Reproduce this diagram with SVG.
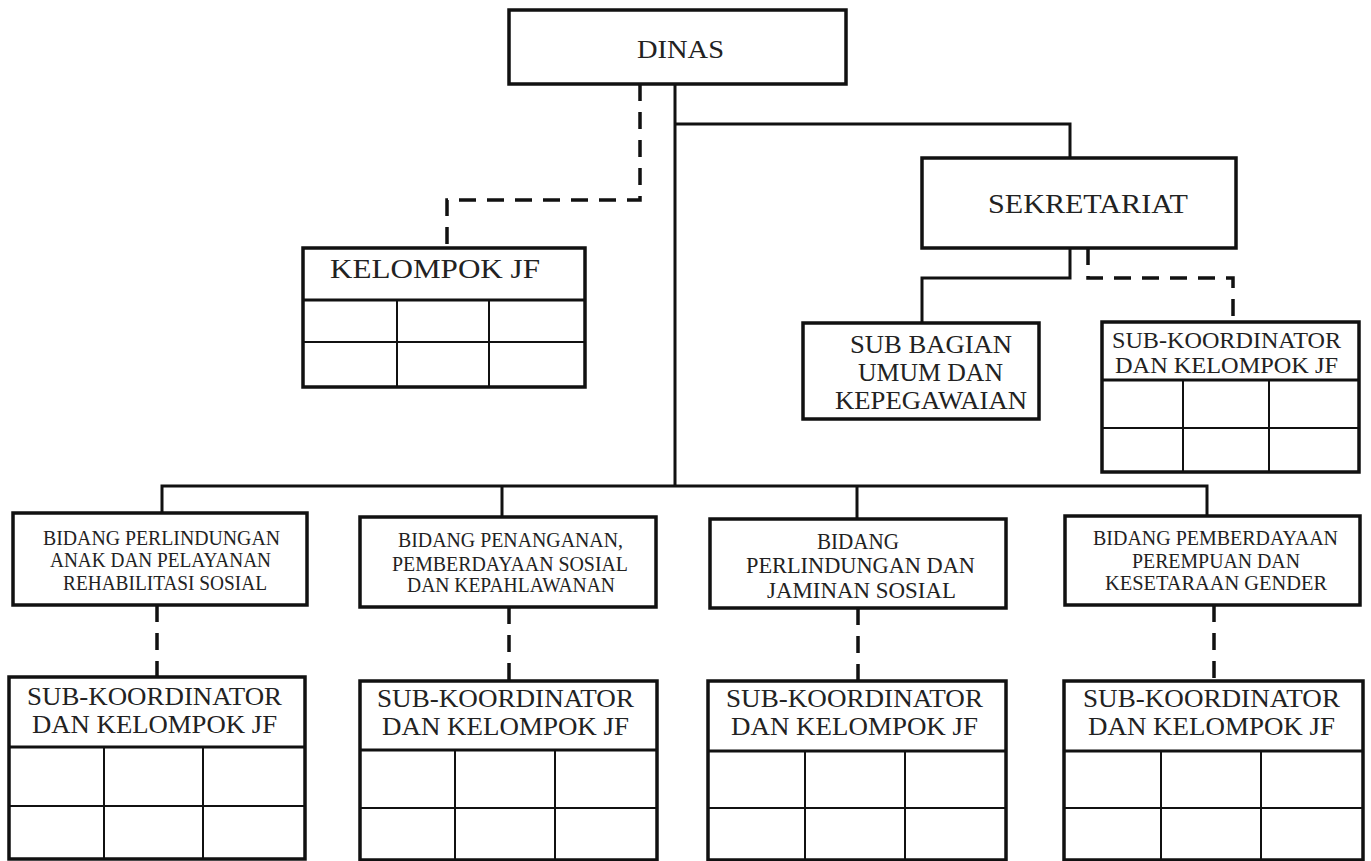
<svg xmlns="http://www.w3.org/2000/svg" width="1371" height="861" viewBox="0 0 1371 861">
<style>
.bg{fill:#ffffff}
.box{fill:#ffffff;stroke:#111;stroke-width:3.5}
.hdr{stroke:#111;stroke-width:3;fill:none}
.grid{stroke:#111;stroke-width:2;fill:none}
.solid{stroke:#111;stroke-width:3;fill:none}
.dash{stroke:#111;stroke-width:3.5;fill:none;stroke-dasharray:17 11}
text{font-family:"Liberation Serif","Times New Roman",serif;fill:#222}
.t24{font-size:26px}
.t25{font-size:27px}
.t26{font-size:28px}
.t21{font-size:22.5px}
.t19{font-size:20px}
.t22{font-size:23px}
</style>
<rect class="bg" x="0" y="0" width="1371" height="861"/>

<g id="connectors">
  <path class="solid" d="M675 84 V486"/>
  <path class="solid" d="M675 124 H1070 V158"/>
  <path class="solid" d="M162 513 V486 H1207 V516"/>
  <path class="solid" d="M502 486 V517"/>
  <path class="solid" d="M857 486 V519"/>
  <path class="dash" d="M640 84 V200 H447 V248"/>
  <path class="solid" d="M1070 248 V278 H922 V323"/>
  <path class="dash" d="M1088 248 V278 H1233 V322"/>
  <path class="dash" d="M157 605 V677"/>
  <path class="dash" d="M509 607 V681"/>
  <path class="dash" d="M858 608 V681"/>
  <path class="dash" d="M1214 605 V681"/>
</g>

<g id="dinas">
  <rect class="box" x="509" y="10" width="337" height="74"/>
  <text class="t24" x="637" y="58" textLength="87" lengthAdjust="spacingAndGlyphs">DINAS</text>
</g>

<g id="kelompok-jf">
  <rect class="box" x="303" y="248" width="282" height="139"/>
  <path class="hdr" d="M303 300 H585"/>
  <path class="grid" d="M303 342 H585 M397 300 V387 M489 300 V387"/>
  <text class="t25" x="330" y="278" textLength="210" lengthAdjust="spacingAndGlyphs">KELOMPOK JF</text>
</g>

<g id="sekretariat">
  <rect class="box" x="922" y="158" width="314" height="90"/>
  <text class="t26" x="988" y="213" textLength="200" lengthAdjust="spacingAndGlyphs">SEKRETARIAT</text>
</g>

<g id="subbag-umum">
  <rect class="box" x="803" y="323" width="236" height="96"/>
  <text class="t24" x="850" y="353" textLength="162" lengthAdjust="spacingAndGlyphs">SUB BAGIAN</text>
  <text class="t24" x="858" y="381" textLength="145" lengthAdjust="spacingAndGlyphs">UMUM DAN</text>
  <text class="t24" x="835" y="409" textLength="192" lengthAdjust="spacingAndGlyphs">KEPEGAWAIAN</text>
</g>

<g id="subkoor-sek">
  <rect class="box" x="1102" y="322" width="257" height="150"/>
  <path class="hdr" d="M1102 380 H1359"/>
  <path class="grid" d="M1102 428 H1359 M1183 380 V472 M1269 380 V472"/>
  <text class="t21" x="1112" y="348" textLength="229" lengthAdjust="spacingAndGlyphs">SUB-KOORDINATOR</text>
  <text class="t21" x="1115" y="373" textLength="223" lengthAdjust="spacingAndGlyphs">DAN KELOMPOK JF</text>
</g>

<g id="bidang-1">
  <rect class="box" x="13" y="513" width="294" height="92"/>
  <text class="t19" x="43" y="545" textLength="237" lengthAdjust="spacingAndGlyphs">BIDANG PERLINDUNGAN</text>
  <text class="t19" x="50" y="567" textLength="221" lengthAdjust="spacingAndGlyphs">ANAK DAN PELAYANAN</text>
  <text class="t19" x="63" y="590" textLength="204" lengthAdjust="spacingAndGlyphs">REHABILITASI SOSIAL</text>
</g>

<g id="bidang-2">
  <rect class="box" x="360" y="517" width="296" height="90"/>
  <text class="t19" x="398" y="547" textLength="225" lengthAdjust="spacingAndGlyphs">BIDANG PENANGANAN,</text>
  <text class="t19" x="392" y="571" textLength="236" lengthAdjust="spacingAndGlyphs">PEMBERDAYAAN SOSIAL</text>
  <text class="t19" x="407" y="592" textLength="208" lengthAdjust="spacingAndGlyphs">DAN KEPAHLAWANAN</text>
</g>

<g id="bidang-3">
  <rect class="box" x="710" y="519" width="296" height="89"/>
  <text class="t22" x="817" y="549" textLength="82" lengthAdjust="spacingAndGlyphs">BIDANG</text>
  <text class="t22" x="746" y="573" textLength="229" lengthAdjust="spacingAndGlyphs">PERLINDUNGAN DAN</text>
  <text class="t22" x="767" y="598" textLength="189" lengthAdjust="spacingAndGlyphs">JAMINAN SOSIAL</text>
</g>

<g id="bidang-4">
  <rect class="box" x="1065" y="516" width="295" height="89"/>
  <text class="t19" x="1093" y="545" textLength="245" lengthAdjust="spacingAndGlyphs">BIDANG PEMBERDAYAAN</text>
  <text class="t19" x="1132" y="568" textLength="168" lengthAdjust="spacingAndGlyphs">PEREMPUAN DAN</text>
  <text class="t19" x="1105" y="590" textLength="222" lengthAdjust="spacingAndGlyphs">KESETARAAN GENDER</text>
</g>

<g id="subkoor-1">
  <rect class="box" x="9" y="677" width="296" height="182"/>
  <path class="hdr" d="M9 747 H305"/>
  <path class="grid" d="M9 806 H305 M104 747 V859 M203 747 V859"/>
  <text class="t24" x="27" y="705" textLength="255" lengthAdjust="spacingAndGlyphs">SUB-KOORDINATOR</text>
  <text class="t24" x="32" y="733" textLength="245" lengthAdjust="spacingAndGlyphs">DAN KELOMPOK JF</text>
</g>

<g id="subkoor-2">
  <rect class="box" x="360" y="681" width="297" height="179"/>
  <path class="hdr" d="M360 750 H657"/>
  <path class="grid" d="M360 808 H657 M455 750 V860 M555 750 V860"/>
  <text class="t24" x="377" y="707" textLength="257" lengthAdjust="spacingAndGlyphs">SUB-KOORDINATOR</text>
  <text class="t24" x="382" y="735" textLength="247" lengthAdjust="spacingAndGlyphs">DAN KELOMPOK JF</text>
</g>

<g id="subkoor-3">
  <rect class="box" x="708" y="681" width="298" height="179"/>
  <path class="hdr" d="M708 751 H1006"/>
  <path class="grid" d="M708 808 H1006 M805 751 V860 M905 751 V860"/>
  <text class="t24" x="726" y="707" textLength="257" lengthAdjust="spacingAndGlyphs">SUB-KOORDINATOR</text>
  <text class="t24" x="731" y="735" textLength="247" lengthAdjust="spacingAndGlyphs">DAN KELOMPOK JF</text>
</g>

<g id="subkoor-4">
  <rect class="box" x="1064" y="681" width="299" height="179"/>
  <path class="hdr" d="M1064 751 H1363"/>
  <path class="grid" d="M1064 808 H1363 M1161 751 V860 M1261 751 V860"/>
  <text class="t24" x="1083" y="707" textLength="257" lengthAdjust="spacingAndGlyphs">SUB-KOORDINATOR</text>
  <text class="t24" x="1088" y="735" textLength="247" lengthAdjust="spacingAndGlyphs">DAN KELOMPOK JF</text>
</g>
</svg>
